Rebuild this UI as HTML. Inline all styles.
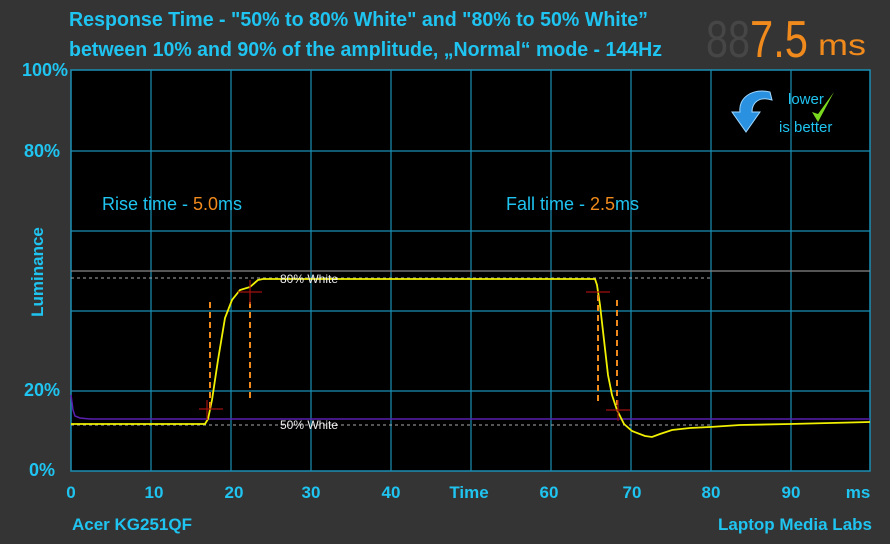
<!DOCTYPE html>
<html><head><meta charset="utf-8"><style>
html,body{margin:0;padding:0;background:#343434;}
svg{display:block;font-family:"Liberation Sans","DejaVu Sans",sans-serif;}
</style></head><body>
<svg width="890" height="544" viewBox="0 0 890 544" xmlns="http://www.w3.org/2000/svg">
<rect width="890" height="544" fill="#343434"/>
<!-- title -->
<g fill="#1fc4f0" font-weight="bold" font-size="20">
<text x="69" y="26" textLength="579" lengthAdjust="spacingAndGlyphs">Response Time - "50% to 80% White" and "80% to 50% White”</text>
<text x="69" y="56" textLength="593" lengthAdjust="spacingAndGlyphs">between 10% and 90% of the amplitude, „Normal“ mode - 144Hz</text>
</g>
<!-- digital display -->
<g>
<text x="706" y="57" font-size="52" fill="#464646" textLength="44" lengthAdjust="spacingAndGlyphs">88</text>
<text x="750" y="57" font-size="52" fill="#f08a1c" textLength="58" lengthAdjust="spacingAndGlyphs">7.5</text>
<text x="818" y="55" font-size="30" fill="#f08a1c" textLength="48" lengthAdjust="spacingAndGlyphs">ms</text>
</g>
<!-- plot -->
<rect x="71" y="70" width="799" height="401" fill="#000"/>
<g stroke="#1a8fb5" stroke-width="1.2">
<line x1="151" y1="70" x2="151" y2="471"/><line x1="231" y1="70" x2="231" y2="471"/>
<line x1="311" y1="70" x2="311" y2="471"/><line x1="391" y1="70" x2="391" y2="471"/>
<line x1="471" y1="70" x2="471" y2="471"/><line x1="551" y1="70" x2="551" y2="471"/>
<line x1="631" y1="70" x2="631" y2="471"/><line x1="711" y1="70" x2="711" y2="471"/>
<line x1="791" y1="70" x2="791" y2="471"/>
<line x1="71" y1="151" x2="870" y2="151"/><line x1="71" y1="231" x2="870" y2="231"/>
<line x1="71" y1="311" x2="870" y2="311"/><line x1="71" y1="391" x2="870" y2="391"/>
</g>
<rect x="71" y="70" width="799" height="401" fill="none" stroke="#1a8fb5" stroke-width="1.5"/>
<line x1="71" y1="271" x2="870" y2="271" stroke="#888" stroke-width="1.2"/>
<line x1="71" y1="278" x2="710" y2="278" stroke="#aaa" stroke-width="1" stroke-dasharray="3,3"/>
<line x1="71" y1="425" x2="710" y2="425" stroke="#aaa" stroke-width="1" stroke-dasharray="3,3"/>
<!-- purple -->
<polyline points="71,395 73,410 75,416 80,418 90,419 870,419" fill="none" stroke="#5a20b0" stroke-width="1.5"/>
<!-- yellow signal -->
<polyline points="71,424 205,424 208,419 212,400 218,360 225,318 232,300 240,290 250,287 258,280 263,279 595,279 597,285 600,305 604,340 608,375 612,395 617,410 624,424 632,431 645,436 652,437 660,434 672,430 690,428 710,427 740,425 790,424 870,422" fill="none" stroke="#f0f000" stroke-width="1.8"/>
<text x="280" y="283" font-size="12" fill="#eee">80% White</text>
<text x="280" y="429" font-size="12" fill="#eee">50% White</text>
<!-- markers -->
<g stroke="#f08a1c" stroke-width="2" stroke-dasharray="6,4">
<line x1="210" y1="302" x2="210" y2="412"/><line x1="250" y1="302" x2="250" y2="402"/>
<line x1="598" y1="295" x2="598" y2="402"/><line x1="617" y1="300" x2="617" y2="405"/>
</g>
<g stroke="#a01010" stroke-width="1.2">
<line x1="199" y1="409" x2="223" y2="409"/><line x1="207" y1="400" x2="207" y2="420"/>
<line x1="238" y1="292" x2="262" y2="292"/><line x1="250" y1="280" x2="250" y2="304"/>
<line x1="586" y1="292" x2="610" y2="292"/>
<line x1="606" y1="410" x2="630" y2="410"/><line x1="618" y1="400" x2="618" y2="421"/>
</g>
<!-- rise/fall labels -->
<text x="102" y="210" font-size="18" fill="#1fc4f0">Rise time - <tspan fill="#f08a1c">5.0</tspan>ms</text>
<text x="506" y="210" font-size="18" fill="#1fc4f0">Fall time - <tspan fill="#f08a1c">2.5</tspan>ms</text>
<!-- lower is better -->
<path d="M770,92 C752,88 738,98 740,112 L732,112 L746,132 L760,112 L752,112 C752,102 760,96 772,100 Z" fill="#2a90e0" stroke="#9fd8ff" stroke-width="1"/>
<text x="788" y="104" font-size="15" fill="#1fc4f0">lower</text>
<text x="779" y="132" font-size="15" fill="#1fc4f0">is better</text>
<path d="M812,112 L818,122 L834,92 L818,114 Z" fill="#7ad81e"/>
<!-- axes labels -->
<g fill="#1fc4f0" font-size="18" font-weight="bold" text-anchor="end">
<text x="68" y="76">100%</text><text x="60" y="157">80%</text>
<text x="60" y="396">20%</text><text x="55" y="476">0%</text>
</g>
<text x="43" y="272" font-size="17" font-weight="bold" fill="#1fc4f0" transform="rotate(-90 43 272)" text-anchor="middle">Luminance</text>
<g fill="#1fc4f0" font-size="17" font-weight="bold" text-anchor="middle">
<text x="71" y="498">0</text><text x="154" y="498">10</text><text x="234" y="498">20</text>
<text x="311" y="498">30</text><text x="391" y="498">40</text><text x="469" y="498">Time</text>
<text x="549" y="498">60</text><text x="632" y="498">70</text><text x="711" y="498">80</text>
<text x="791" y="498">90</text><text x="858" y="498">ms</text>
</g>
<text x="72" y="530" font-size="17" font-weight="bold" fill="#1fc4f0">Acer KG251QF</text>
<text x="872" y="530" font-size="17" font-weight="bold" fill="#1fc4f0" text-anchor="end">Laptop Media Labs</text>
</svg>
</body></html>
